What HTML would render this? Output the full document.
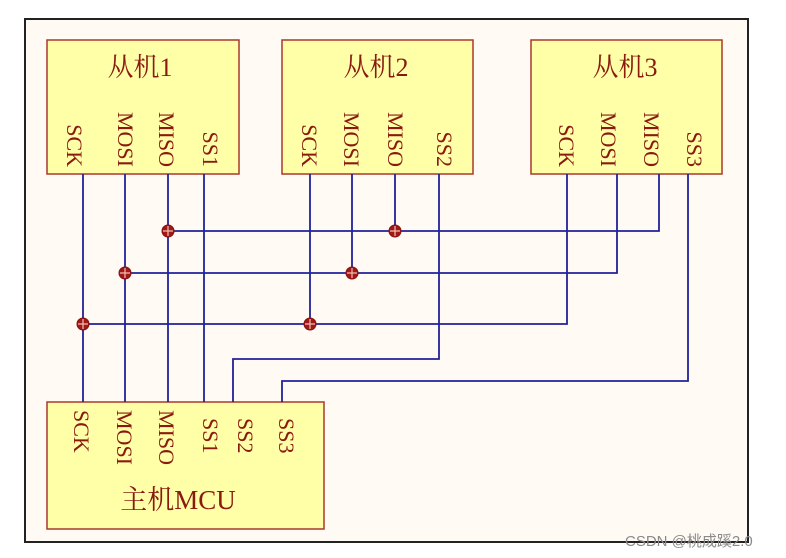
<!DOCTYPE html>
<html><head><meta charset="utf-8"><style>
html,body{margin:0;padding:0;background:#fff;width:786px;height:558px;overflow:hidden}
svg{display:block}
text{font-family:"Liberation Serif","Noto Serif CJK SC",serif;fill:#8a1a10}
.p{font-size:22px}
.t{font-size:26px}
</style></head><body>
<svg width="786" height="558" viewBox="0 0 786 558">
<rect x="25" y="19" width="723" height="523" fill="#fffaf4" stroke="#222" stroke-width="2"/>
<g fill="#ffffa8" stroke="#a8382c" stroke-width="1.5">
<rect x="47" y="40" width="192" height="134"/>
<rect x="282" y="40" width="191" height="134"/>
<rect x="531" y="40" width="191" height="134"/>
<rect x="47" y="402" width="277" height="127"/>
</g>
<g stroke="#22229a" stroke-width="1.8" fill="none">
<path d="M83 174V402M125 174V402M168 174V402M204 174V402"/>
<path d="M310 174V324M352 174V273M395 174V231M439 174V359H233V402"/>
<path d="M567 174V324H83M617 174V273H125M659 174V231H168M688 174V381H282V402"/>
</g>
<g fill="#a01818" stroke="#8a1010" stroke-width="1">
<circle cx="168" cy="231" r="6"/><circle cx="395" cy="231" r="6"/>
<circle cx="125" cy="273" r="6"/><circle cx="352" cy="273" r="6"/>
<circle cx="83" cy="324" r="6"/><circle cx="310" cy="324" r="6"/>
</g>
<g stroke="#f0c0b0" stroke-width="1.2">
<path d="M163 231h10M168 226v10M390 231h10M395 226v10M120 273h10M125 268v10M347 273h10M352 268v10M78 324h10M83 319v10M305 324h10M310 319v10"/>
</g>
<text class="t" x="140" y="76" text-anchor="middle">从机1</text>
<text class="t" x="376" y="76" text-anchor="middle">从机2</text>
<text class="t" x="625" y="76" text-anchor="middle">从机3</text>
<text class="t" x="178" y="509" text-anchor="middle" style="font-size:27px">主机MCU</text>
<g class="p">
<text transform="translate(67,167) rotate(90)" text-anchor="end">SCK</text>
<text transform="translate(118,167) rotate(90)" text-anchor="end">MOSI</text>
<text transform="translate(159,167) rotate(90)" text-anchor="end">MISO</text>
<text transform="translate(203,167) rotate(90)" text-anchor="end">SS1</text>
<text transform="translate(302,167) rotate(90)" text-anchor="end">SCK</text>
<text transform="translate(344,167) rotate(90)" text-anchor="end">MOSI</text>
<text transform="translate(388,167) rotate(90)" text-anchor="end">MISO</text>
<text transform="translate(437,167) rotate(90)" text-anchor="end">SS2</text>
<text transform="translate(559,167) rotate(90)" text-anchor="end">SCK</text>
<text transform="translate(601,167) rotate(90)" text-anchor="end">MOSI</text>
<text transform="translate(644,167) rotate(90)" text-anchor="end">MISO</text>
<text transform="translate(687,167) rotate(90)" text-anchor="end">SS3</text>
<text transform="translate(74,410) rotate(90)">SCK</text>
<text transform="translate(117,410) rotate(90)">MOSI</text>
<text transform="translate(159,410) rotate(90)">MISO</text>
<text transform="translate(203,418) rotate(90)">SS1</text>
<text transform="translate(238,418) rotate(90)">SS2</text>
<text transform="translate(279,418) rotate(90)">SS3</text>
</g>
<text x="625" y="546" style="font-family:'Liberation Sans','Noto Sans CJK SC',sans-serif;font-size:15px;fill:#8a8a8a">CSDN @桃成蹊2.0</text>
</svg>
</body></html>
